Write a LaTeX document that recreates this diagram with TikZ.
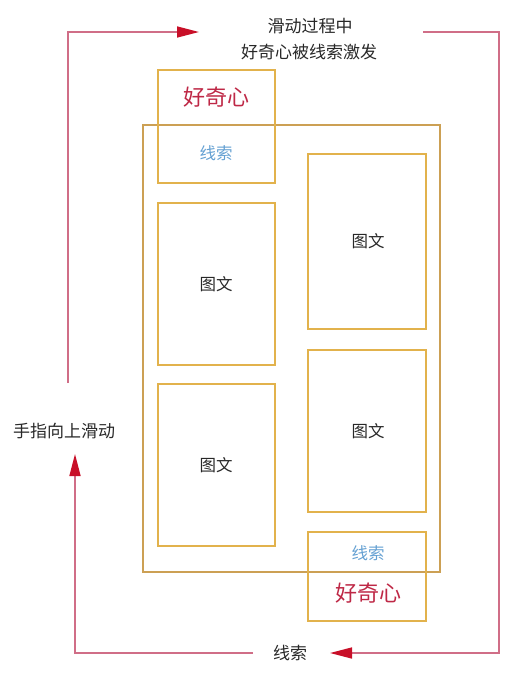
\documentclass[tikz,border=0pt]{standalone}
\usepackage{fontspec}
\setmainfont{Noto Sans CJK SC}
\usetikzlibrary{arrows.meta}
\definecolor{boxc}{RGB}{226,178,76}
\definecolor{outerc}{RGB}{204,160,84}
\definecolor{loopc}{RGB}{208,110,135}
\definecolor{arrc}{RGB}{200,15,40}
\definecolor{redt}{RGB}{190,40,70}
\definecolor{bluet}{RGB}{100,160,210}
\definecolor{darkt}{RGB}{40,40,40}
\tikzset{
  box/.style={draw=boxc, line width=2pt, inner sep=0pt, minimum width=117pt},
  outerbox/.style={draw=outerc, line width=2pt, inner sep=0pt},
  loop/.style={draw=loopc, line width=1.5pt},
  tip/.style={-{Triangle[length=22pt,width=11pt,color=arrc]}},
  lbl/.style={text=darkt, font=\fontsize{17pt}{24pt}\selectfont, inner sep=0pt, align=center},
  picl/.style={text=darkt, font=\fontsize{16.5pt}{20pt}\selectfont, inner sep=0pt},
  curio/.style={text=redt, font=\fontsize{22pt}{26pt}\selectfont, inner sep=0pt},
  clue/.style={text=bluet, font=\fontsize{16.5pt}{20pt}\selectfont, inner sep=0pt}
}
\begin{document}
\begin{tikzpicture}[x=1pt,y=-1pt]
\useasboundingbox (0,0) rectangle (510,678);
% boxes
\node[outerbox, minimum width=297pt, minimum height=447pt] (outer) at (291.5,348.5) {};
\node[box, minimum height=113pt] (topbox) at (216.5,126.5) {};
\node[box, minimum height=162pt] (l1) at (216.5,284) {};
\node[box, minimum height=162pt] (l2) at (216.5,465) {};
\node[box, minimum width=118pt, minimum height=175pt] (r1) at (367,241.5) {};
\node[box, minimum width=118pt, minimum height=162pt] (r2) at (367,431) {};
\node[box, minimum width=118pt, minimum height=89pt] (botbox) at (367,576.5) {};
% box texts
\node[curio] (c1) at (216,97) {好奇心};
\node[clue] (k1) at (216,153) {线索};
\node[picl] (p1) at (216,284) {图文};
\node[picl] (p2) at (368,241) {图文};
\node[picl] (p3) at (368,431) {图文};
\node[picl] (p4) at (216,465) {图文};
\node[clue] (k2) at (368,553) {线索};
\node[curio] (c2) at (368,593) {好奇心};
% loop labels
\node[lbl] (t1) at (310,26) {滑动过程中};
\node[lbl] (t2) at (309,52) {好奇心被线索激发};
\node[lbl] (bt) at (290,653) {线索};
\node[lbl] (lt) at (64,431) {手指向上滑动};
% loop coordinates
\coordinate (le) at (68,383);
\coordinate (tl) at (68,32);
\coordinate (ta) at (199,32);
\coordinate (ts) at (423,32);
\coordinate (tr) at (499,32);
\coordinate (br) at (499,653);
\coordinate (ba) at (330,653);
\coordinate (bs) at (253,653);
\coordinate (bl) at (75,653);
\coordinate (la) at (75,454);
% loop connectors
\draw[loop, tip] (le) -- (tl) -- (ta);
\draw[loop, tip] (ts) -- (tr) -- (br) -- (ba);
\draw[loop, tip] (bs) -- (bl) -- (la);
\end{tikzpicture}
\end{document}
